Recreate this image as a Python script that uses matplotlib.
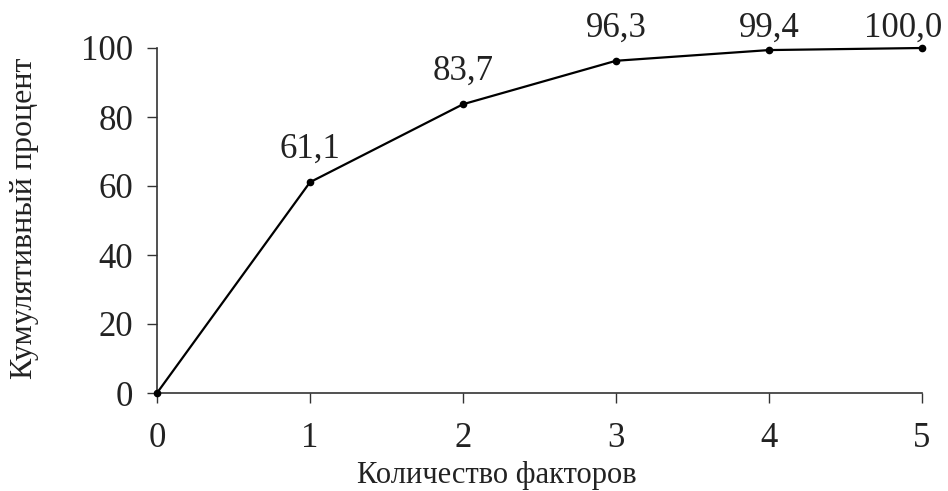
import matplotlib
matplotlib.use("Agg")
import matplotlib.pyplot as plt

factors = [0, 1, 2, 3, 4, 5]
cum_percent = [0.0, 61.1, 83.7, 96.3, 99.4, 100.0]
point_labels = ["", "61,1", "83,7", "96,3", "99,4", "100,0"]
x_ticks = [0, 1, 2, 3, 4, 5]
y_ticks = [0, 20, 40, 60, 80, 100]

plt.rcParams['font.family'] = ['Liberation Serif', 'DejaVu Serif']
FS = 25

fig = plt.figure(figsize=(9.48, 4.91), dpi=100)
ax = fig.add_axes([157/948, 1-393/491, 765/948, 345/491])

ax.plot(factors, cum_percent, color='black', lw=1.6, marker='o', ms=4.5,
        clip_on=False, zorder=3)

for x, v, lab in zip(factors, cum_percent, point_labels):
    if not lab:
        continue
    ly = min(v + 9.6, 105.8)
    lx = min(x, 4.876)
    ax.text(lx, ly, lab, ha='center', va='center', fontsize=FS, color='#222222')

ax.set_xlim(0, 5)
ax.set_ylim(0, 100)
ax.set_xticks(x_ticks)
ax.set_yticks(y_ticks)
ax.tick_params(axis='both', labelsize=FS, direction='out', length=7, width=1,
               color='#333333', labelcolor='#222222')
ax.tick_params(axis='x', pad=14)
ax.tick_params(axis='y', pad=10)
for s in ['top', 'right']:
    ax.spines[s].set_visible(False)
for s in ['left', 'bottom']:
    ax.spines[s].set_linewidth(1.2)
    ax.spines[s].set_color('#333333')

ax.set_xlabel("Количество факторов", fontsize=22, color='#222222', va='center')
ax.xaxis.set_label_coords((497-157)/765, (393-476)/345)
ax.set_ylabel("Кумулятивный процент", fontsize=23, color='#222222', va='center')
ax.yaxis.set_label_coords((25-157)/765, (393-218)/345)

fig.savefig("out.png", dpi=100)
